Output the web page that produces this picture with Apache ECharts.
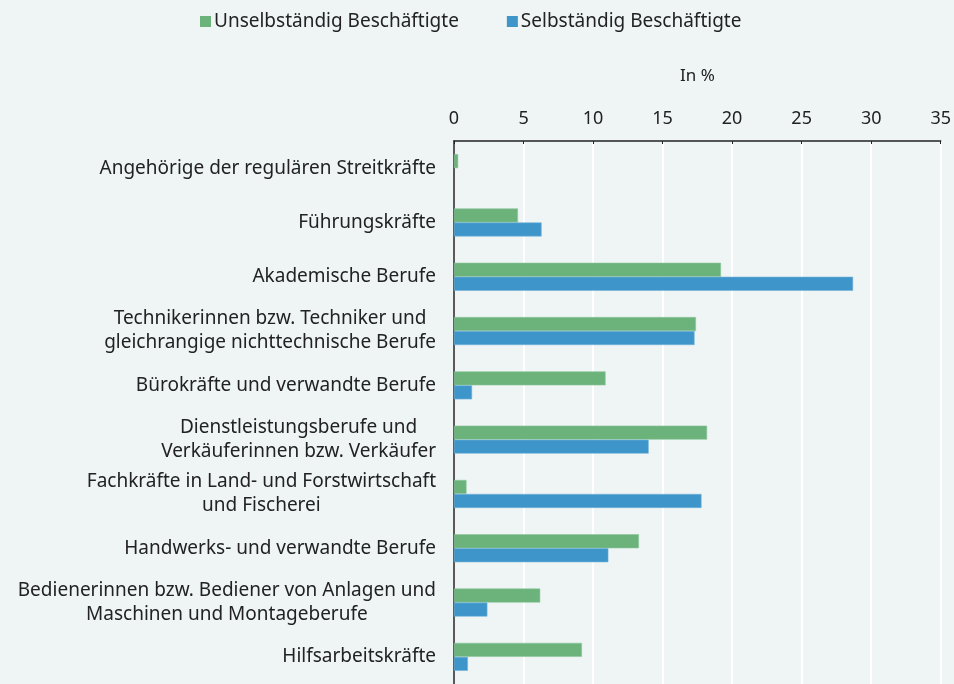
<!DOCTYPE html>
<html>
<head>
<meta charset="utf-8">
<script src="https://cdn.jsdelivr.net/npm/echarts@6/dist/echarts.min.js"></script>
<style>
  html, body { margin: 0; padding: 0; background: #eff5f5; }
  #main { width: 954px; height: 684px; }
</style>
</head>
<body>
<div id="main"></div>
<script>
var categories = [
  "Angehörige der regulären Streitkräfte",
  "Führungskräfte",
  "Akademische Berufe",
  "Technikerinnen bzw. Techniker und\ngleichrangige nichttechnische Berufe",
  "Bürokräfte und verwandte Berufe",
  "Dienstleistungsberufe und\nVerkäuferinnen bzw. Verkäufer",
  "Fachkräfte in Land- und Forstwirtschaft\nund Fischerei",
  "Handwerks- und verwandte Berufe",
  "Bedienerinnen bzw. Bediener von Anlagen und\nMaschinen und Montageberufe",
  "Hilfsarbeitskräfte"
];
var unselbstaendig = [0.3, 4.6, 19.2, 17.4, 10.9, 18.2, 0.9, 13.3, 6.2, 9.2];
var selbstaendig = [null, 6.3, 28.7, 17.3, 1.3, 14.0, 17.8, 11.1, 2.4, 1.0];
var xTicks = [0, 5, 10, 15, 20, 25, 30, 35];

var fontFamily = "Noto Sans";
var textColor = "#222";
var myChart = echarts.init(document.getElementById("main"));

// Beschriftung: mehrzeilige Labels mittig zueinander, rechtsbündig am Achsenrand
function labelFormatter(value) {
  return value.split("\n").map(function (line) {
    return "{c|" + line + "}";
  }).join("\n");
}

var option = {
  backgroundColor: "#eff5f5",
  animation: false,
  textStyle: { fontFamily: fontFamily },
  legend: {
    top: 7,
    left: 195,
    icon: "rect",
    itemWidth: 11,
    itemHeight: 11,
    itemGap: 48,
    itemStyle: { borderWidth: 0 },
    textStyle: { fontSize: 19, color: textColor, fontFamily: fontFamily, padding: [0, 0, 0, -2] },
    data: ["Unselbständig Beschäftigte", "Selbständig Beschäftigte"]
  },
  grid: {
    left: 454,
    top: 141,
    width: 487,
    height: 551
  },
  xAxis: {
    type: "value",
    position: "top",
    min: xTicks[0],
    max: xTicks[xTicks.length - 1],
    interval: 5,
    name: "In %",
    nameLocation: "middle",
    nameGap: 56,
    nameTextStyle: { fontSize: 17, color: textColor, fontFamily: fontFamily },
    axisLine: { show: true, lineStyle: { color: textColor, width: 1.5 } },
    axisTick: { show: true, inside: true, length: 3, lineStyle: { color: textColor } },
    axisLabel: { fontSize: 18, color: textColor, margin: 13, fontFamily: fontFamily },
    splitLine: { show: true, lineStyle: { color: "#ffffff", width: 2 } }
  },
  yAxis: {
    type: "category",
    inverse: true,
    data: categories,
    axisLine: { show: true, lineStyle: { color: textColor, width: 1.5 } },
    axisTick: { show: false },
    axisLabel: {
      margin: 18,
      color: textColor,
      fontSize: 19,
      lineHeight: 24,
      fontFamily: fontFamily,
      formatter: labelFormatter,
      rich: {
        c: { align: "center", fontSize: 19, lineHeight: 24, color: textColor, fontFamily: fontFamily }
      }
    },
    splitLine: { show: false }
  },
  series: [
    {
      name: "Unselbständig Beschäftigte",
      type: "bar",
      data: unselbstaendig,
      barWidth: 14,
      barGap: "0%",
      itemStyle: { color: "#6bb37b", borderColor: "#8cc59a", borderWidth: 0.6 }
    },
    {
      name: "Selbständig Beschäftigte",
      type: "bar",
      data: selbstaendig,
      barWidth: 14,
      barGap: "0%",
      itemStyle: { color: "#3e95c9", borderColor: "#74b3da", borderWidth: 0.6 }
    }
  ]
};

myChart.setOption(option);
</script>
</body>
</html>
